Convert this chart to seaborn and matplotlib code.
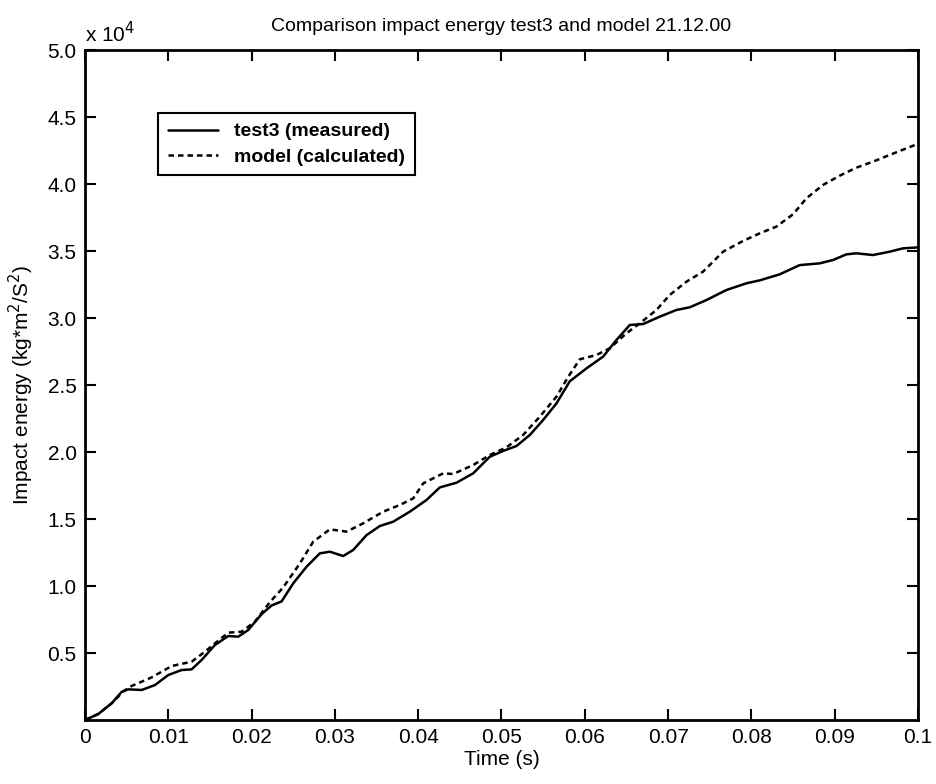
import numpy as np
import pandas as pd
import matplotlib
matplotlib.use("Agg")
import matplotlib.pyplot as plt
import seaborn as sns
from matplotlib.ticker import FuncFormatter

sns.set_style("ticks")
plt.rcParams['font.family'] = ['Liberation Sans', 'DejaVu Sans']
plt.rcParams['text.color'] = 'black'
plt.rcParams['axes.labelcolor'] = 'black'
plt.rcParams['xtick.color'] = 'black'
plt.rcParams['ytick.color'] = 'black'
plt.rcParams['axes.edgecolor'] = 'black'

# measured curve (test3)
t_test = [0, 0.0016, 0.0032, 0.0044, 0.0052, 0.0068, 0.0084, 0.0100, 0.0116, 0.0128,
          0.0140, 0.0156, 0.0172, 0.0184, 0.0196, 0.0212, 0.0224, 0.0236, 0.0250, 0.0266,
          0.0282, 0.0294, 0.0310, 0.0322, 0.0338, 0.0354, 0.0370, 0.0390, 0.0410, 0.0426,
          0.0446, 0.0466, 0.0486, 0.0502, 0.0518, 0.0534, 0.0550, 0.0566, 0.0582, 0.0602,
          0.0622, 0.0638, 0.0654, 0.0670, 0.0690, 0.0710, 0.0726, 0.0746, 0.0770, 0.0794,
          0.0810, 0.0834, 0.0858, 0.0882, 0.0898, 0.0914, 0.0926, 0.0946, 0.0966, 0.0982, 0.1]
e_test = [0, 450, 1250, 2100, 2290, 2240, 2610, 3360, 3730, 3780,
          4480, 5600, 6270, 6220, 6720, 7900, 8550, 8850, 10200, 11440,
          12440, 12560, 12240, 12690, 13800, 14480, 14800, 15550, 16420, 17360,
          17710, 18410, 19650, 20080, 20450, 21270, 22390, 23630, 25280, 26240,
          27120, 28360, 29480, 29550, 30100, 30600, 30800, 31340, 32090, 32590,
          32810, 33260, 33950, 34080, 34330, 34750, 34830, 34700, 34950, 35200, 35270]

# calculated curve (model)
t_model = [0, 0.0016, 0.0034, 0.0046, 0.0056, 0.0080, 0.0104, 0.0128, 0.0144, 0.0156,
           0.0172, 0.0188, 0.0204, 0.0222, 0.0238, 0.0258, 0.0274, 0.0294, 0.0314, 0.0334,
           0.0358, 0.0378, 0.0394, 0.0406, 0.0430, 0.0442, 0.0466, 0.0486, 0.0506, 0.0526,
           0.0546, 0.0566, 0.0580, 0.0594, 0.0614, 0.0630, 0.0650, 0.0666, 0.0686, 0.0702,
           0.0722, 0.0742, 0.0766, 0.0790, 0.0810, 0.0830, 0.0850, 0.0866, 0.0886, 0.0906,
           0.0926, 0.0946, 0.0966, 0.0986, 0.1]
e_model = [0, 450, 1350, 2150, 2540, 3180, 4030, 4350, 5100, 5720,
           6520, 6590, 7340, 8800, 9900, 11690, 13310, 14230, 14060, 14680,
           15550, 16050, 16540, 17660, 18410, 18360, 19030, 19780, 20350, 21270,
           22640, 24130, 25600, 26920, 27240, 27740, 28860, 29600, 30600, 31720,
           32710, 33460, 34950, 35750, 36320, 36820, 37740, 38930, 39930, 40620,
           41220, 41670, 42170, 42660, 43000]

x_ticks = [0, 0.01, 0.02, 0.03, 0.04, 0.05, 0.06, 0.07, 0.08, 0.09, 0.1]
x_labels = ['0', '0.01', '0.02', '0.03', '0.04', '0.05', '0.06', '0.07', '0.08', '0.09', '0.1']
y_ticks = [5000, 10000, 15000, 20000, 25000, 30000, 35000, 40000, 45000, 50000]

fig = plt.figure(figsize=(9.37, 7.84), dpi=100)
ax = fig.add_axes([0.0907, 0.0816, 0.889, 0.8546])

sns.lineplot(x=t_test, y=e_test, ax=ax, color='black', lw=1.8,
             label='test3 (measured)', sort=False,
             solid_joinstyle='round', solid_capstyle='round')
sns.lineplot(x=t_model, y=e_model, ax=ax, color='black', lw=1.8,
             linestyle=(0, (2.2, 1.6)), label='model (calculated)', sort=False)

ax.set_xlim(0, 0.1)
ax.set_ylim(0, 50000)
ax.set_xticks(x_ticks)
ax.set_xticklabels(x_labels)
ax.set_yticks(y_ticks)
ax.yaxis.set_major_formatter(FuncFormatter(lambda v, p: f"{v / 1e4:.1f}"))
ax.tick_params(direction='in', length=8, width=1.5, labelsize=15,
               top=True, right=True, pad=6, colors='black')
for s in ax.spines.values():
    s.set_linewidth(2)
    s.set_color('black')
    s.set_visible(True)

ax.set_title('Comparison impact energy test3 and model 21.12.00', fontsize=14,
             pad=14, color='black')
ax.set_xlabel('Time (s)', fontsize=15, labelpad=2)
ax.set_ylabel('Impact energy (kg*m$^2$/S$^2$)', fontsize=15, labelpad=8)
ax.text(0.0, 1.005, 'x 10$^4$', transform=ax.transAxes, fontsize=15,
        ha='left', va='bottom')

leg = ax.legend(loc='upper left', bbox_to_anchor=(0.0876, 0.906),
                borderaxespad=0, fancybox=False, framealpha=1,
                prop={'weight': 'bold', 'size': 14}, handlelength=2.6,
                borderpad=0.5, labelspacing=0.4)
leg.get_frame().set_edgecolor('black')
leg.get_frame().set_linewidth(1.5)
for txt in leg.get_texts():
    txt.set_color('black')

fig.savefig('out.png', dpi=100)
